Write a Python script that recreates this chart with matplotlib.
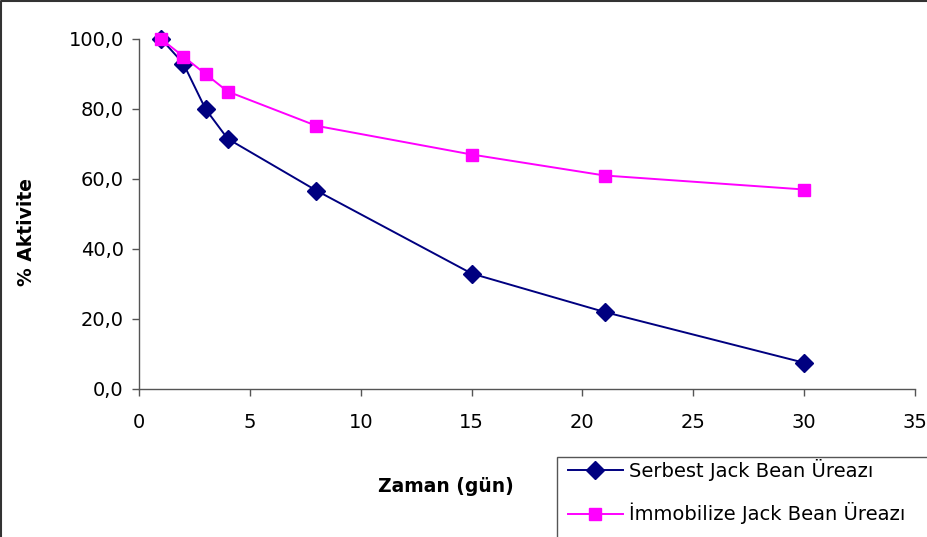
import matplotlib
matplotlib.use("Agg")
import matplotlib.pyplot as plt
from matplotlib.lines import Line2D

plt.rcParams['font.family'] = ['DejaVu Sans']

days = [1, 2, 3, 4, 8, 15, 21, 30]
serbest = [100.0, 93.0, 80.0, 71.5, 56.7, 33.0, 22.0, 7.5]
immobilize = [100.0, 95.0, 90.0, 85.0, 75.2, 67.0, 61.0, 57.0]
series_names = ["Serbest Jack Bean Üreazı", "İmmobilize Jack Bean Üreazı"]
x_ticks = [0, 5, 10, 15, 20, 25, 30, 35]
y_ticks = [0, 20, 40, 60, 80, 100]

W, H = 927, 537
fig = plt.figure(figsize=(W / 100, H / 100), dpi=100)
ax = fig.add_axes([139 / W, 1 - 389 / H, (915 - 139) / W, (389 - 39) / H])

ax.plot(days, serbest, color="#000080", lw=1.4, marker="D", ms=9,
        mfc="#000080", mec="#000080", clip_on=False, zorder=2)
ax.plot(days, immobilize, color="#FF00FF", lw=1.4, marker="s", ms=9.2,
        mfc="#FF00FF", mec="#FF00FF", clip_on=False, zorder=3)

ax.set_xlim(0, 35)
ax.set_ylim(0, 100)
ax.set_xticks(x_ticks)
ax.set_yticks(y_ticks)
ax.set_yticklabels([f"{v:.1f}".replace(".", ",") for v in y_ticks])
ax.tick_params(axis="both", direction="out", length=5, width=1, color="#555555",
               labelsize=14, pad=6)
ax.tick_params(axis="x", pad=12)
for side in ("top", "right"):
    ax.spines[side].set_visible(False)
for side in ("left", "bottom"):
    ax.spines[side].set_color("#555555")
    ax.spines[side].set_linewidth(1)

fig.text(446 / W, 1 - 487 / H, "Zaman (gün)", ha="center", va="center",
         fontsize=13.5, fontweight="bold")
fig.text(27 / W, 1 - 232 / H, "% Aktivite", ha="center", va="center",
         rotation=90, fontsize=13.5, fontweight="bold")

handles = [
    Line2D([], [], color="#000080", lw=1.4, marker="D", ms=9,
           mfc="#000080", mec="#000080"),
    Line2D([], [], color="#FF00FF", lw=1.4, marker="s", ms=9.2,
           mfc="#FF00FF", mec="#FF00FF"),
]
leg = fig.legend(handles, series_names, loc="upper left",
                 bbox_to_anchor=(557 / W, 1 - 448 / H), fontsize=14,
                 frameon=False, borderpad=0.57,
                 handlelength=2.8, handletextpad=0.35, labelspacing=1.1,
                 borderaxespad=0)

# legend box, running past the lower right corner of the chart
fig.add_artist(plt.Rectangle((557 / W, -0.05), 0.5, (537 - 457) / H + 0.05,
                             transform=fig.transFigure, fill=False,
                             edgecolor="#555555", lw=1))

# chart border along the top and left edges
fig.add_artist(Line2D([0.6 / W, 0.6 / W, 1], [0, 1 - 0.8 / H, 1 - 0.8 / H],
                      transform=fig.transFigure, color="#333333", lw=1.5))

fig.savefig("out.png", dpi=100)
